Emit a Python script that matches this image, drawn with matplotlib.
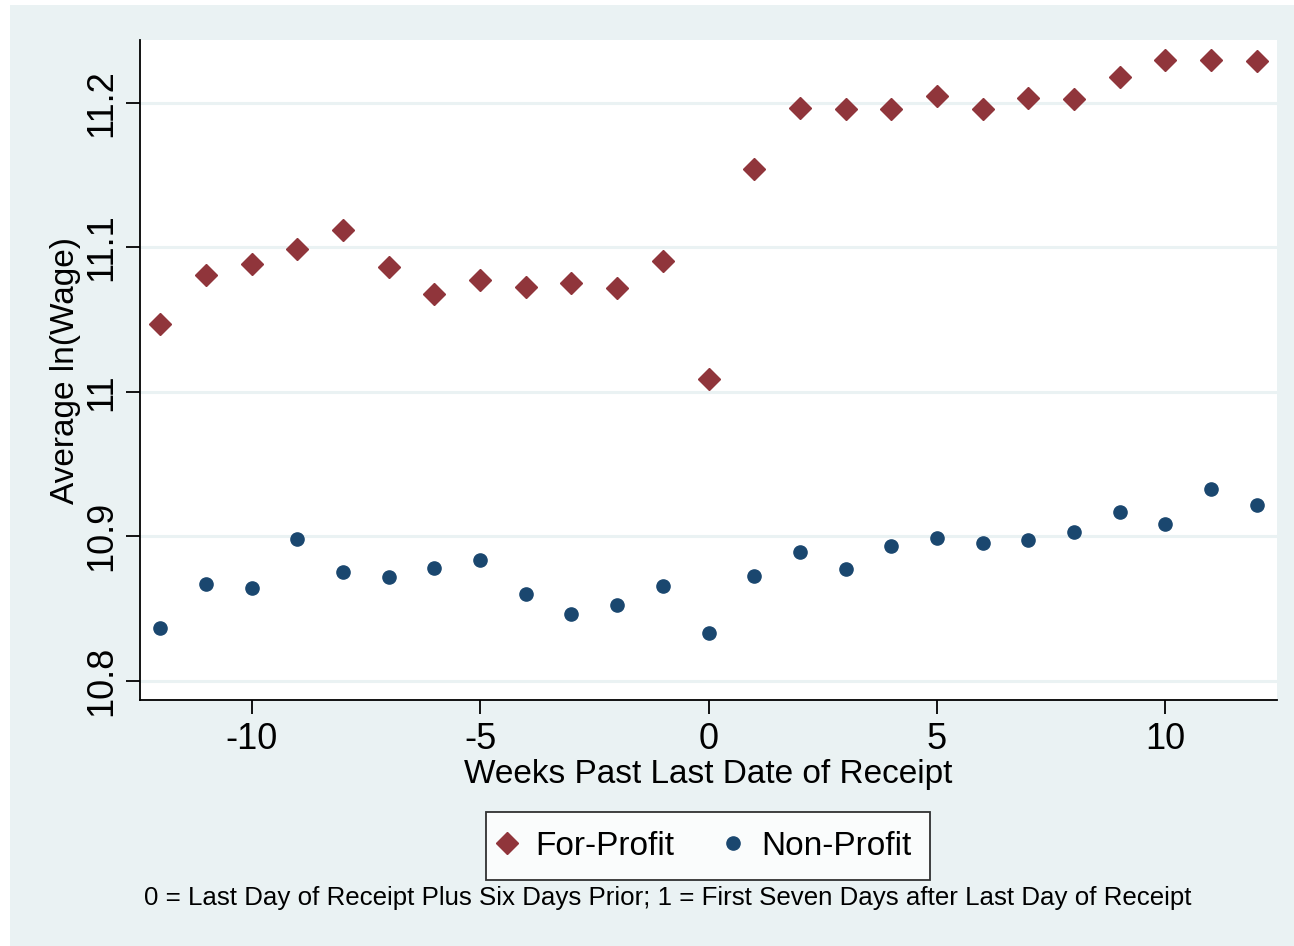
import matplotlib
matplotlib.use("Agg")
import matplotlib.pyplot as plt
from matplotlib.patches import Rectangle

plt.rcParams['font.family'] = ['Liberation Sans', 'DejaVu Sans']

weeks = list(range(-12, 13))
for_profit = [11.047, 11.081, 11.0886, 11.099, 11.112, 11.0865, 11.068, 11.0775,
              11.0727, 11.0754, 11.072, 11.0907, 11.009, 11.154, 11.1965, 11.196,
              11.196, 11.205, 11.196, 11.2035, 11.203, 11.218, 11.2298, 11.2298, 11.229]
non_profit = [10.8367, 10.867, 10.8644, 10.898, 10.8754, 10.872, 10.878, 10.8837,
              10.860, 10.8464, 10.852, 10.8657, 10.833, 10.8727, 10.889, 10.8775,
              10.8934, 10.899, 10.8955, 10.897, 10.903, 10.917, 10.9087, 10.933, 10.9218]
xticks = [-10, -5, 0, 5, 10]
yticks = [10.8, 10.9, 11.0, 11.1, 11.2]
ytick_labels = ["10.8", "10.9", "11", "11.1", "11.2"]

BG = '#eaf2f3'
MAROON = '#90353b'
NAVY = '#1a476f'

W, H = 1294, 946
fig = plt.figure(figsize=(W / 100, H / 100), dpi=100, facecolor='white')
fig.patches.append(Rectangle((10 / W, 0), 1 - 10 / W, 1 - 5 / H, transform=fig.transFigure,
                             facecolor=BG, edgecolor='none', zorder=-10))

ax = fig.add_axes([140 / W, 1 - 700 / H, (1277 - 140) / W, (700 - 40) / H])
ax.set_facecolor('white')
ax.set_xlim(-12.44, 12.44)
ax.set_ylim(10.7865, 11.2437)

for y in yticks:
    ax.axhline(y, color=BG, lw=2.2, zorder=1)

ax.plot(weeks, for_profit, linestyle='none', marker='D', ms=11.5, color=MAROON,
        mec=MAROON, label='For-Profit', zorder=3)
ax.plot(weeks, non_profit, linestyle='none', marker='o', ms=9.5, color=NAVY,
        mec=NAVY, label='Non-Profit', zorder=3)

for s in ['top', 'right']:
    ax.spines[s].set_visible(False)
for s in ['left', 'bottom']:
    ax.spines[s].set_linewidth(1.3)
    ax.spines[s].set_color('black')

ax.set_xticks(xticks)
ax.set_xticklabels([str(t) for t in xticks])
ax.set_yticks(yticks)
ax.set_yticklabels(ytick_labels, rotation=90, va='center')
ax.tick_params(axis='both', length=10, width=1.3, color='black', labelsize=26)
ax.tick_params(axis='x', pad=6)
ax.tick_params(axis='y', pad=5)

ax.set_xlabel('Weeks Past Last Date of Receipt', fontsize=24, labelpad=1)
ax.set_ylabel('Average ln(Wage)', fontsize=24, labelpad=2)

leg = ax.legend(loc='center', bbox_to_anchor=(708 / W, 1 - 846 / H), bbox_transform=fig.transFigure,
                ncol=2, fontsize=24, frameon=True, fancybox=False, edgecolor='black',
                handletextpad=0.76, columnspacing=1.67, borderpad=0.55, handlelength=0.18,
                borderaxespad=0, markerscale=1.0)
leg.get_frame().set_linewidth(1.3)

fig.text(668 / W, 1 - 898 / H,
         '0 = Last Day of Receipt Plus Six Days Prior; 1 = First Seven Days after Last Day of Receipt',
         ha='center', va='center', fontsize=18.6)

fig.savefig('out.png', dpi=100, facecolor=fig.get_facecolor())
